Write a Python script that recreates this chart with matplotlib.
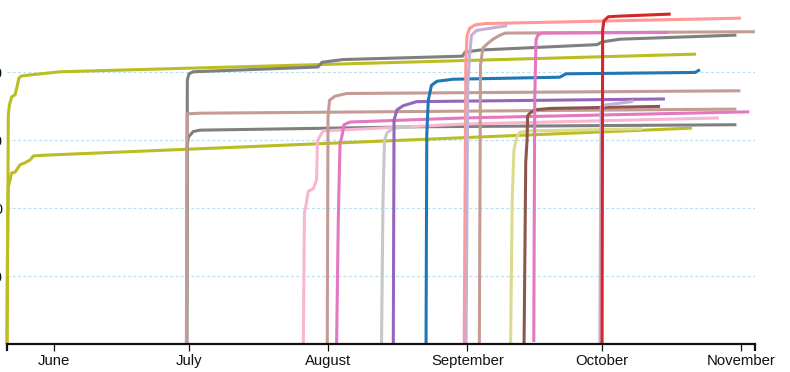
import matplotlib
matplotlib.use('Agg')
import matplotlib.pyplot as plt
import matplotlib.dates as mdates
import pandas as pd

plt.rcParams['font.family'] = ['Liberation Sans', 'DejaVu Sans']

# cumulative counts per series (dates, year assumed)
olive_a_dates = ['2020-05-21 11:00', '2020-05-21 15:00', '2020-05-21 18:00', '2020-05-22 00:00', '2020-05-22 12:00',
                 '2020-05-23 06:00', '2020-05-23 15:00', '2020-05-24 03:00', '2020-05-24 18:00', '2020-06-02 06:00',
                 '2020-10-21 22:00']
olive_a_vals = [0, 168, 337, 352, 364, 367, 377, 392, 395, 401, 427]

olive_b_dates = ['2020-05-21 11:00', '2020-05-21 13:00', '2020-05-21 18:00', '2020-05-22 12:00', '2020-05-23 06:00',
                 '2020-05-24 09:00', '2020-05-25 11:00', '2020-05-26 14:00', '2020-05-27 08:00', '2020-05-29 12:00',
                 '2020-10-21 00:00']
olive_b_vals = [0, 124, 231, 252, 253, 264, 267, 271, 277, 278, 318]

gray_a_dates = ['2020-06-30 12:00', '2020-06-30 15:00', '2020-07-01 00:00', '2020-07-01 23:00', '2020-07-29 17:00',
                '2020-07-30 15:00', '2020-08-04 07:00', '2020-08-30 22:00', '2020-08-31 12:00', '2020-09-03 19:00',
                '2020-09-29 22:00', '2020-10-01 00:00', '2020-10-05 00:00', '2020-10-30 22:00']
gray_a_vals = [0, 389, 398, 401, 408, 415, 419, 424, 430, 433, 441, 445, 449, 455]

gray_b_dates = ['2020-06-30 12:00', '2020-06-30 15:00', '2020-06-30 21:00', '2020-07-01 23:00', '2020-07-03 11:00',
                '2020-08-21 10:00', '2020-10-30 22:00']
gray_b_vals = [0, 293, 305, 313, 315, 320, 323]

rosy_a_dates = ['2020-06-30 10:00', '2020-06-30 14:00', '2020-07-03 11:00', '2020-08-31 09:00', '2020-10-30 22:00']
rosy_a_vals = [0, 339, 340, 343, 346]

rosy_b_dates = ['2020-07-31 19:00', '2020-07-31 23:00', '2020-08-01 07:00', '2020-08-02 12:00', '2020-08-05 02:00',
                '2020-10-31 19:00']
rosy_b_vals = [0, 333, 359, 365, 369, 373]

rosy_c_dates = ['2020-09-03 16:00', '2020-09-03 22:00', '2020-09-04 11:00', '2020-09-05 14:00', '2020-09-06 17:00',
                '2020-09-08 07:00', '2020-09-09 10:00', '2020-11-04 01:00']
rosy_c_vals = [0, 411, 436, 443, 449, 455, 458, 460]

lightpink_dates = ['2020-07-26 11:00', '2020-07-26 17:00', '2020-07-27 01:00', '2020-07-27 14:00', '2020-07-28 17:00',
                   '2020-07-29 10:00', '2020-07-29 15:00', '2020-07-30 22:00', '2020-08-31 09:00', '2020-10-27 00:00']
lightpink_vals = [0, 193, 204, 225, 229, 242, 300, 314, 324, 333]

pink_a_dates = ['2020-08-02 21:00', '2020-08-03 06:00', '2020-08-03 15:00', '2020-08-04 05:00', '2020-08-04 12:00',
                '2020-08-05 21:00', '2020-08-31 09:00', '2020-11-02 19:00']
pink_a_vals = [0, 183, 293, 311, 323, 327, 333, 342]

lightgray_dates = ['2020-08-12 21:00', '2020-08-13 05:00', '2020-08-13 13:00', '2020-08-14 02:00', '2020-08-15 12:00',
                   '2020-08-19 05:00']
lightgray_vals = [0, 212, 300, 311, 318, 320]

purple_dates = ['2020-08-15 12:00', '2020-08-15 16:00', '2020-08-16 08:00', '2020-08-17 17:00', '2020-08-20 17:00',
                '2020-10-15 00:00']
purple_vals = [0, 330, 345, 351, 357, 361]

blue_dates = ['2020-08-22 19:00', '2020-08-22 23:00', '2020-08-23 07:00', '2020-08-24 00:00', '2020-08-25 05:00',
              '2020-08-28 19:00', '2020-09-21 14:00', '2020-09-22 23:00', '2020-10-21 17:00', '2020-10-22 19:00']
blue_vals = [0, 308, 359, 381, 387, 390, 393, 398, 400, 404]

salmon_dates = ['2020-08-31 07:00', '2020-08-31 16:00', '2020-08-31 22:00', '2020-09-01 12:00', '2020-09-02 17:00',
                '2020-09-04 22:00', '2020-10-31 22:00']
salmon_vals = [0, 418, 454, 465, 470, 472, 480]

lavender_a_dates = ['2020-08-31 17:00', '2020-09-01 02:00', '2020-09-01 12:00', '2020-09-01 22:00', '2020-09-03 02:00',
                    '2020-09-09 21:00']
lavender_a_vals = [0, 381, 426, 455, 462, 469]

paleolive_dates = ['2020-09-10 15:00', '2020-09-11 00:00', '2020-09-11 09:00', '2020-09-12 00:00', '2020-09-12 17:00',
                   '2020-09-14 22:00', '2020-10-09 22:00']
paleolive_vals = [0, 217, 286, 305, 312, 314, 317]

brown_dates = ['2020-09-13 15:00', '2020-09-14 00:00', '2020-09-14 07:00', '2020-09-14 10:00', '2020-09-14 22:00',
               '2020-09-16 02:00', '2020-09-19 10:00', '2020-10-13 22:00']
brown_vals = [0, 268, 300, 336, 340, 345, 347, 350]

pink_b_dates = ['2020-09-15 19:00', '2020-09-16 00:00', '2020-09-16 07:00', '2020-09-16 17:00', '2020-09-17 14:00',
                '2020-10-15 18:00']
pink_b_vals = [3, 359, 448, 455, 458, 459]

lavender_b_dates = ['2020-09-30 12:00', '2020-09-30 19:00', '2020-10-01 16:00', '2020-10-07 14:00', '2020-10-07 23:00']
lavender_b_vals = [0, 348, 352, 357, 359]

red_dates = ['2020-10-01 00:00', '2020-10-01 03:00', '2020-10-01 10:00', '2020-10-02 09:00', '2020-10-05 00:00',
             '2020-10-16 07:00']
red_vals = [0, 462, 476, 482, 483, 486]

series = [
    (olive_a_dates, olive_a_vals, '#bcbd22'),
    (olive_b_dates, olive_b_vals, '#bcbd22'),
    (gray_a_dates, gray_a_vals, '#7f7f7f'),
    (gray_b_dates, gray_b_vals, '#7f7f7f'),
    (rosy_a_dates, rosy_a_vals, '#c49c94'),
    (lightpink_dates, lightpink_vals, '#f7b6d2'),
    (rosy_b_dates, rosy_b_vals, '#c49c94'),
    (pink_a_dates, pink_a_vals, '#e377c2'),
    (lightgray_dates, lightgray_vals, '#c7c7c7'),
    (purple_dates, purple_vals, '#9467bd'),
    (blue_dates, blue_vals, '#1f77b4'),
    (salmon_dates, salmon_vals, '#ff9896'),
    (lavender_a_dates, lavender_a_vals, '#c5b0d5'),
    (rosy_c_dates, rosy_c_vals, '#c49c94'),
    (paleolive_dates, paleolive_vals, '#dbdb8d'),
    (brown_dates, brown_vals, '#8c564b'),
    (pink_b_dates, pink_b_vals, '#e377c2'),
    (lavender_b_dates, lavender_b_vals, '#c5b0d5'),
    (red_dates, red_vals, '#d62728'),
]

x_start = pd.Timestamp('2020-05-21 09:30')
x_end = pd.Timestamp('2020-11-04 01:30')
y_ticks = [100, 200, 300, 400]

fig = plt.figure(figsize=(7.9, 3.72), dpi=100)
ax = fig.add_axes([6.7 / 790, 28 / 372, 748.3 / 790, 334 / 372])

for dates, vals, color in series:
    ax.plot(pd.to_datetime(dates), vals, color=color, lw=2.2,
            solid_joinstyle='round', solid_capstyle='butt', clip_on=False)

ax.set_xlim(x_start, x_end)
ax.set_ylim(0, 492)

ax.set_yticks(y_ticks)
ax.set_yticklabels([str(v) for v in y_ticks])
ax.tick_params(axis='y', length=0, pad=2.7, labelsize=10.7, labelcolor='#111111')
ax.yaxis.grid(True, color='#b8e2f2', lw=0.9, linestyle=(0, (2.4, 1.8)))
ax.set_axisbelow(True)

ax.xaxis.set_major_locator(mdates.MonthLocator())
ax.xaxis.set_major_formatter(mdates.DateFormatter('%B'))
ax.xaxis.set_minor_locator(matplotlib.ticker.FixedLocator(
    [mdates.date2num(x_start), mdates.date2num(x_end)]))
ax.tick_params(axis='x', which='major', length=5, width=0.9, color='#111111',
               pad=2.2, labelsize=10.7, labelcolor='#111111')
ax.tick_params(axis='x', which='minor', length=5, width=1.6, color='#111111')

for side in ['top', 'right', 'left']:
    ax.spines[side].set_visible(False)
ax.spines['bottom'].set_linewidth(1.6)
ax.spines['bottom'].set_color('#111111')

fig.savefig('out.png', dpi=100)
